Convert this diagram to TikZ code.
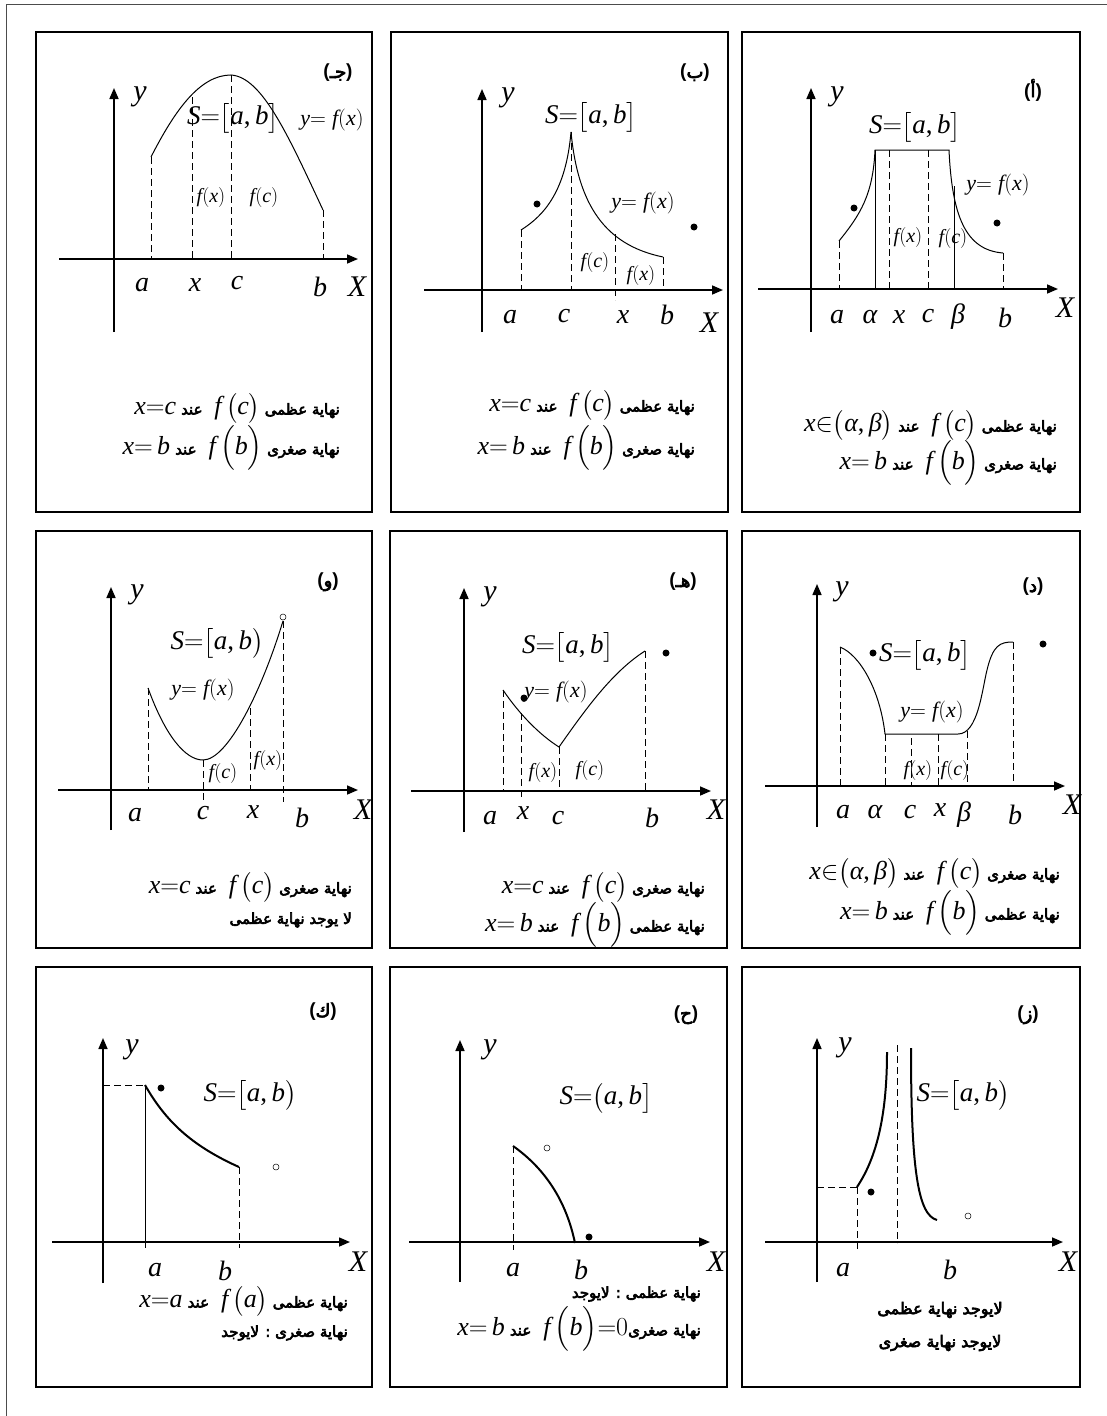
\RequirePackage{fix-cm}
\documentclass[tikz,border=0pt]{standalone}
\usepackage{amsmath}
\usepackage{fontspec}
\setmainfont{Liberation Serif}
\newfontfamily\sansfont{Liberation Sans}
\newfontfamily\arabicfont[Script=Arabic,FakeBold=4]{DejaVu Sans}
\newfontfamily\tnrfam{Liberation Serif}[NFSSFamily=tnr]
\DeclareSymbolFont{tnrit}{TU}{tnr}{m}{it}
\DeclareSymbolFont{tnrup}{TU}{tnr}{m}{n}
\makeatletter
\@tempcnta=`a
\loop
  \Umathcode\@tempcnta="7 \symtnrit \@tempcnta
  \ifnum\@tempcnta<`z \advance\@tempcnta by 1
\repeat
\@tempcnta=`A
\loop
  \Umathcode\@tempcnta="7 \symtnrit \@tempcnta
  \ifnum\@tempcnta<`Z \advance\@tempcnta by 1
\repeat
\makeatother
\Umathchardef\alpha="7 \symtnrit "03B1
\Umathchardef\beta="7 \symtnrit "03B2
\Umathcode`\=="3 \symtnrup `\=
\Umathcode`\(="4 \symtnrup `\(
\Umathcode`\)="5 \symtnrup `\)
\Umathcode`\[="4 \symtnrup `\[
\Umathcode`\]="5 \symtnrup `\]
\Umathcode`\,="6 \symtnrup `\,
\Umathcode`\0="0 \symtnrup `\0
\TeXXeTstate=1
\usetikzlibrary{arrows.meta}
\newcommand\ar[1]{{\arabicfont\fontsize{15}{15}\selectfont\beginR #1\endR}}
\newcommand\arbig[1]{{\arabicfont\fontsize{16}{16}\selectfont\beginR #1\endR}}
\newcommand\tagl[1]{{\sansfont\bfseries\fontsize{19}{19}\selectfont(}{\arabicfont\fontsize{18}{18}\selectfont#1}{\sansfont\bfseries\fontsize{19}{19}\selectfont)}}
\tikzset{
  panel/.style={line width=2.4pt},
  axis/.style={line width=1.6pt, -{Triangle[length=11pt,width=9pt]}},
  vline/.style={line width=0.8pt, dash pattern=on 7pt off 4pt},
  thinline/.style={line width=0.5pt},
  graph/.style={line width=1pt},
  thickgraph/.style={line width=2pt},
  lbl/.style={inner sep=0pt, font=\fontsize{28}{28}\selectfont},
  axlbl/.style={inner sep=0pt, font=\fontsize{30}{30}\selectfont},
  setlbl/.style={inner sep=0pt, font=\fontsize{27}{27}\selectfont},
  fnlbl/.style={inner sep=0pt, font=\fontsize{22}{22}\selectfont},
  vallbl/.style={inner sep=0pt, font=\fontsize{20}{20}\selectfont},
  note/.style={inner sep=0pt, anchor=east, font=\fontsize{26}{26}\selectfont},
  tag/.style={inner sep=0pt}
}
\begin{document}
\begin{tikzpicture}[x=1pt,y=-1pt]
\useasboundingbox (0,0) rectangle (1106,1416);
\draw[gray!60!black, line width=0.8pt] (6,4) rectangle (1115,1425);
\draw[panel] (36,32) rectangle (372,512);
\draw[panel] (391,32) rectangle (728,512);
\draw[panel] (742,32) rectangle (1080,512);
\draw[panel] (36,531) rectangle (372,948);
\draw[panel] (390,531) rectangle (727,948);
\draw[panel] (742,531) rectangle (1080,948);
\draw[panel] (36,967) rectangle (372,1387);
\draw[panel] (390,967) rectangle (727,1387);
\draw[panel] (742,967) rectangle (1080,1387);

\draw[axis] (114,332) -- (114,88);
\draw[axis] (59,259) -- (358,259);
\draw[graph] (151,157) .. controls (175,110) and (200,75) .. (231,75) .. controls (262,77) and (288,135) .. (323,210);
\draw[vline] (151,157) -- (151,259);
\draw[vline] (192,97) -- (192,259);
\draw[vline] (231,75) -- (231,259);
\draw[vline] (323,210) -- (323,259);
\node[axlbl] (jy) at (140,97) {$y$};
\node[axlbl] (jX) at (357,287) {$X$};
\node[lbl] (ja) at (142,285) {$a$};
\node[lbl] (jx) at (195,285) {$x$};
\node[lbl] (jc) at (237,283) {$c$};
\node[lbl] (jb) at (320,287) {$b$};
\node[setlbl] (jS) at (233,118) {$S{=}\big[a,b\big]$};
\node[fnlbl] (jf) at (332,120) {$y{=}\;f(x)$};
\node[vallbl] (jfx) at (211,197) {$f(x)$};
\node[vallbl] (jfc) at (264,197) {$f(c)$};
\node[tag] (jtag) at (338,73) {\tagl{جـ}};
\node[note] (jn1) at (340,408) {$x{=}c$\hspace{5pt}\ar{عند}\hspace{12pt}$f\,\big(c\big)$\,\ar{نهاية عظمى}};
\node[note] (jn2) at (340,448) {$x{=}\,b$\hspace{5pt}\ar{عند}\hspace{12pt}$f\,\Big(b\Big)$\,\ar{نهاية صغرى}};

\draw[axis] (482,332) -- (482,89);
\draw[axis] (424,290) -- (723,290);
\draw[graph] (521,230) .. controls (545,215) and (566,190) .. (571,132) .. controls (578,205) and (605,245) .. (663,257);
\draw[vline] (521,230) -- (521,290);
\draw[vline] (571,132) -- (571,290);
\draw[vline] (615,234) -- (615,300);
\draw[vline] (663,257) -- (663,290);
\fill (537,204) circle (3.5pt);
\fill (694,227) circle (3.5pt);
\node[axlbl] (by) at (508,98) {$y$};
\node[axlbl] (bX) at (709,323) {$X$};
\node[lbl] (ba) at (510,317) {$a$};
\node[lbl] (bc) at (564,316) {$c$};
\node[lbl] (bx) at (623,317) {$x$};
\node[lbl] (bb) at (667,315) {$b$};
\node[setlbl] (bS) at (591,117) {$S{=}\big[a,b\big]$};
\node[fnlbl] (bf) at (643,203) {$y{=}\;f(x)$};
\node[vallbl] (bfc) at (595,262) {$f(c)$};
\node[vallbl] (bfx) at (641,275) {$f(x)$};
\node[tag] (btag) at (695,73) {\tagl{ب}};
\node[note] (bn1) at (695,405) {$x{=}c$\hspace{5pt}\ar{عند}\hspace{12pt}$f\,\big(c\big)$\,\ar{نهاية عظمى}};
\node[note] (bn2) at (695,448) {$x{=}\,b$\hspace{5pt}\ar{عند}\hspace{12pt}$f\,\Big(b\Big)$\,\ar{نهاية صغرى}};

\draw[axis] (811,332) -- (811,88);
\draw[axis] (758,289) -- (1058,289);
\draw[graph] (839,241) .. controls (860,215) and (873,195) .. (875,150) -- (949,150) .. controls (952,215) and (965,250) .. (1003,253);
\draw[vline] (839,241) -- (839,289);
\draw[vline] (889,150) -- (889,289);
\draw[vline] (928,150) -- (928,289);
\draw[vline] (1003,253) -- (1003,289);
\draw[thinline] (875,150) -- (875,289);
\draw[thinline] (954,186) -- (954,289);
\fill (854,208) circle (3.5pt);
\fill (997,223) circle (3.5pt);
\node[axlbl] (ay) at (837,97) {$y$};
\node[axlbl] (aX) at (1065,308) {$X$};
\node[lbl] (aa) at (837,317) {$a$};
\node[lbl] (aal) at (870,317) {$\alpha$};
\node[lbl] (ax) at (899,317) {$x$};
\node[lbl] (ac) at (928,316) {$c$};
\node[lbl] (abe) at (958,317) {$\beta$};
\node[lbl] (ab) at (1005,318) {$b$};
\node[setlbl] (aS) at (915,127) {$S{=}\big[a,b\big]$};
\node[fnlbl] (af) at (998,185) {$y{=}\;f(x)$};
\node[vallbl] (afx) at (908,237) {$f(x)$};
\node[vallbl] (afc) at (953,238) {$f(c)$};
\node[tag] (atag) at (1033,90) {\tagl{أ}};
\node[note] (an1) at (1057,425) {$x{\in}\big(\alpha,\beta\big)$\hspace{5pt}\ar{عند}\hspace{12pt}$f\,\big(c\big)$\,\ar{نهاية عظمى}};
\node[note] (an2) at (1057,463) {$x{=}\,b$\hspace{5pt}\ar{عند}\hspace{12pt}$f\,\Big(b\Big)$\,\ar{نهاية صغرى}};

\draw[axis] (111,830) -- (111,587);
\draw[axis] (58,790) -- (358,790);
\draw[graph] (148,688) .. controls (165,735) and (185,760) .. (203,760) .. controls (228,760) and (262,690) .. (283,621);
\draw[thinline] (283,617) circle (3pt);
\draw[vline] (148,688) -- (148,790);
\draw[vline] (203,760) -- (203,800);
\draw[vline] (250,708) -- (250,790);
\draw[vline] (283,621) -- (283,802);
\node[axlbl] (wy) at (137,595) {$y$};
\node[axlbl] (wX) at (363,810) {$X$};
\node[lbl] (wa) at (135,815) {$a$};
\node[lbl] (wc) at (203,813) {$c$};
\node[lbl] (wx) at (253,812) {$x$};
\node[lbl] (wb) at (302,818) {$b$};
\node[setlbl] (wS) at (217,643) {$S{=}\big[a,b\big)$};
\node[fnlbl] (wf) at (203,690) {$y{=}\;f(x)$};
\node[vallbl] (wfc) at (223,773) {$f(c)$};
\node[vallbl] (wfx) at (268,760) {$f(x)$};
\node[tag] (wtag) at (328,582) {\tagl{و}};
\node[note] (wn1) at (352,887) {$x{=}c$\hspace{5pt}\ar{عند}\hspace{12pt}$f\,\big(c\big)$\,\ar{نهاية صغرى}};
\node[inner sep=0pt, anchor=east] (wn2) at (352,920) {\ar{لا يوجد نهاية عظمى}};

\draw[axis] (464,832) -- (464,588);
\draw[axis] (411,791) -- (711,791);
\draw[graph] (503,690) .. controls (520,715) and (540,735) .. (559,747) .. controls (585,710) and (612,672) .. (645,651);
\draw[vline] (503,690) -- (503,791);
\draw[vline] (521,713) -- (521,797);
\draw[vline] (559,747) -- (559,791);
\draw[vline] (645,651) -- (645,791);
\fill (524,698) circle (3.5pt);
\fill (666,653) circle (3.5pt);
\node[axlbl] (hy) at (490,597) {$y$};
\node[axlbl] (hX) at (716,810) {$X$};
\node[lbl] (ha) at (490,818) {$a$};
\node[lbl] (hx) at (523,813) {$x$};
\node[lbl] (hc) at (558,818) {$c$};
\node[lbl] (hb) at (652,818) {$b$};
\node[setlbl] (hS) at (568,647) {$S{=}\big[a,b\big]$};
\node[fnlbl] (hf) at (556,692) {$y{=}\;f(x)$};
\node[vallbl] (hfx) at (543,772) {$f(x)$};
\node[vallbl] (hfc) at (590,770) {$f(c)$};
\node[tag] (htag) at (683,582) {\tagl{هـ}};
\node[note] (hn1) at (705,887) {$x{=}c$\hspace{5pt}\ar{عند}\hspace{12pt}$f\,\big(c\big)$\,\ar{نهاية صغرى}};
\node[note] (hn2) at (705,925) {$x{=}\,b$\hspace{5pt}\ar{عند}\hspace{12pt}$f\,\Big(b\Big)$\,\ar{نهاية عظمى}};

\draw[axis] (817,827) -- (817,584);
\draw[axis] (765,786) -- (1065,786);
\draw[graph] (840,647) .. controls (860,655) and (880,690) .. (885,734) -- (958,734) .. controls (978,734) and (982,690) .. (987,670) .. controls (993,645) and (1000,642) .. (1013,642);
\draw[vline] (840,647) -- (840,786);
\draw[vline] (885,734) -- (885,786);
\draw[vline] (911,738) -- (911,786);
\draw[vline] (938,734) -- (938,786);
\draw[vline] (967,731) -- (967,786);
\draw[vline] (1013,642) -- (1013,786);
\fill (873,653) circle (3.5pt);
\fill (1043,644) circle (3.5pt);
\node[axlbl] (dy) at (842,592) {$y$};
\node[axlbl] (dX) at (1072,805) {$X$};
\node[lbl] (da) at (843,812) {$a$};
\node[lbl] (dal) at (875,812) {$\alpha$};
\node[lbl] (dc) at (910,812) {$c$};
\node[lbl] (dx) at (940,810) {$x$};
\node[lbl] (dbe) at (964,815) {$\beta$};
\node[lbl] (db) at (1015,815) {$b$};
\node[setlbl] (dS) at (925,655) {$S{=}\big[a,b\big]$};
\node[fnlbl] (df) at (932,712) {$y{=}\;f(x)$};
\node[vallbl] (dfx) at (918,770) {$f(x)$};
\node[vallbl] (dfc) at (955,770) {$f(c)$};
\node[tag] (dtag) at (1033,587) {\tagl{د}};
\node[note] (dn1) at (1060,873) {$x{\in}\big(\alpha,\beta\big)$\hspace{5pt}\ar{عند}\hspace{12pt}$f\,\big(c\big)$\,\ar{نهاية صغرى}};
\node[note] (dn2) at (1060,913) {$x{=}\,b$\hspace{5pt}\ar{عند}\hspace{12pt}$f\,\Big(b\Big)$\,\ar{نهاية عظمى}};

\draw[axis] (103,1283) -- (103,1038);
\draw[axis] (52,1242) -- (350,1242);
\draw[thickgraph] (145,1085) .. controls (165,1120) and (190,1145) .. (239,1167);
\draw[vline] (103,1085) -- (145,1085);
\draw[thinline] (145,1085) -- (145,1248);
\draw[vline] (239,1167) -- (239,1248);
\fill (161,1088) circle (3.5pt);
\draw[thinline] (276,1167) circle (3pt);
\node[axlbl] (ky) at (132,1050) {$y$};
\node[axlbl] (kX) at (358,1262) {$X$};
\node[lbl] (ka) at (155,1270) {$a$};
\node[lbl] (kb) at (225,1271) {$b$};
\node[setlbl] (kS) at (250,1095) {$S{=}\big[a,b\big)$};
\node[tag] (ktag) at (323,1012) {\tagl{ك}};
\node[note] (kn1) at (348,1301) {$x{=}a$\hspace{5pt}\ar{عند}\hspace{12pt}$f\,\big(a\big)$\,\ar{نهاية عظمى}};
\node[inner sep=0pt, anchor=east] (kn2) at (348,1333) {\ar{نهاية صغرى : لايوجد}};

\draw[axis] (460,1282) -- (460,1040);
\draw[axis] (409,1242) -- (710,1242);
\draw[thickgraph] (513,1146) .. controls (540,1165) and (565,1195) .. (575,1243);
\draw[vline] (513,1146) -- (513,1250);
\draw[thinline] (547,1148) circle (3pt);
\fill (589,1237) circle (3.5pt);
\node[axlbl] (ry) at (490,1050) {$y$};
\node[axlbl] (rX) at (716,1262) {$X$};
\node[lbl] (ra) at (513,1270) {$a$};
\node[lbl] (rb) at (581,1270) {$b$};
\node[setlbl] (rS) at (606,1098) {$S{=}\big(a,b\big]$};
\node[tag] (rtag) at (686,1015) {\tagl{ح}};
\node[inner sep=0pt, anchor=east] (rn1) at (701,1294) {\ar{نهاية عظمى : لايوجد}};
\node[note] (rn2) at (701,1329) {$x{=}\,b$\hspace{5pt}\ar{عند}\hspace{12pt}$f\,\Big(b\Big){=}0$\ar{نهاية صغرى}};

\draw[axis] (817,1282) -- (817,1038);
\draw[axis] (765,1242) -- (1063,1242);
\draw[thickgraph] (857,1187) .. controls (875,1160) and (887,1120) .. (887,1052);
\draw[thickgraph] (911,1048) .. controls (911,1170) and (918,1215) .. (937,1220);
\draw[vline] (897,1045) -- (897,1243);
\draw[vline] (817,1187) -- (857,1187);
\draw[vline] (857,1187) -- (857,1250);
\fill (871,1192) circle (3.5pt);
\draw[thinline] (968,1216) circle (3pt);
\node[axlbl] (zy) at (845,1048) {$y$};
\node[axlbl] (zX) at (1068,1262) {$X$};
\node[lbl] (za) at (843,1270) {$a$};
\node[lbl] (zb) at (950,1270) {$b$};
\node[setlbl] (zS) at (963,1095) {$S{=}\big[a,b\big)$};
\node[tag] (ztag) at (1028,1015) {\tagl{ز}};
\node[inner sep=0pt] (zn1) at (940,1310) {\arbig{لايوجد نهاية عظمى}};
\node[inner sep=0pt] (zn2) at (940,1343) {\arbig{لايوجد نهاية صغرى}};
\end{tikzpicture}
\end{document}
